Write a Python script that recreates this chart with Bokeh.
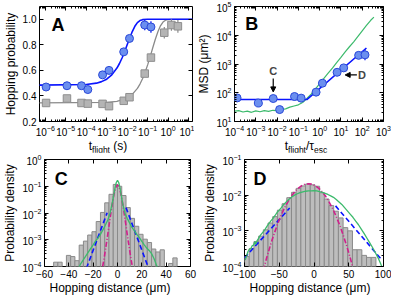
import numpy as np
from bokeh.plotting import figure
from bokeh.layouts import column, row
from bokeh.models import (FixedTicker, PrintfTickFormatter, LogAxis, LinearAxis,
                          Label, Arrow, NormalHead, CustomJSTickFormatter, Div)
from bokeh.embed import file_html
from bokeh.resources import INLINE

FONT = "Liberation Sans"

# ---------------- Panel A data ----------------
a_t = [1.1e-6, 1.15e-5, 5.9e-5, 1.2e-4, 6.3e-4, 1.3e-3, 6.8e-3, 1.3e-2, 7.2e-2, 0.145]
a_blue = [0.47, 0.48, 0.48, 0.45, 0.565, 0.60, 0.745, 0.85, 0.955, 0.94]
a_blue_err = [0.015, 0.012, 0.012, 0.012, 0.015, 0.015, 0.02, 0.025, 0.04, 0.045]
a_gray_t = [1.1e-6, 1.15e-5, 5.9e-5, 1.2e-4, 6.3e-4, 1.3e-3, 6.8e-3, 1.3e-2, 7.2e-2, 0.145, 0.65, 1.45, 3.0]
a_gray = [0.345, 0.38, 0.345, 0.34, 0.338, 0.32, 0.362, 0.39, 0.575, 0.70, 0.895, 0.955, 0.945]
a_gray_err = [0.01, 0.01, 0.01, 0.01, 0.01, 0.01, 0.012, 0.012, 0.015, 0.02, 0.045, 0.045, 0.05]
a_fit_blue_logt = [-6.3, -4.0, -3.5, -3.25, -3.0, -2.75, -2.5, -2.375, -2.25, -2.125, -2.0,
                   -1.875, -1.75, -1.625, -1.5, -1.375, -1.25, -1.0, 1.2]
a_fit_blue = [0.485, 0.490, 0.500, 0.512, 0.531, 0.565, 0.618, 0.654, 0.697, 0.746, 0.800,
              0.853, 0.904, 0.945, 0.974, 0.990, 0.997, 1.0, 1.0]
a_fit_gray_logt = [-6.3, -3.0, -2.5, -2.0, -1.75, -1.5, -1.375, -1.25, -1.125, -1.0, -0.875,
                   -0.75, -0.625, -0.5, -0.375, -0.25, -0.125, 0.0, 0.25, 1.2]
a_fit_gray = [0.345, 0.349, 0.357, 0.383, 0.412, 0.459, 0.493, 0.534, 0.585, 0.643, 0.708,
              0.777, 0.844, 0.903, 0.949, 0.978, 0.993, 0.998, 1.0, 1.0]
a_yticks = [0.2, 0.4, 0.6, 0.8, 1.0]

# ---------------- Panel B data ----------------
b_t = [1.32e-4, 1.32e-3, 6.6e-3, 1.32e-2, 0.066, 0.135, 0.68, 1.35, 6.6, 13.5, 68, 135]
b_msd = [66, 44, 63, 26, 74, 65, 105, 215, 515, 733, 2000, 2080]
b_err_lo = [62, 41, 59, 24, 70, 61, 99, 203, 487, 690, 1650, 1350]
b_err_hi = [70, 47, 67, 28, 78, 69, 111, 227, 545, 780, 2450, 3300]
b_fit_t = [1e-4, 0.25, 158]
b_fit_msd = [58, 58, 3600]
b_green_logt = [-4.0, -3.8, -3.6, -3.4, -3.2, -3.0, -2.8, -2.6, -2.4, -2.2, -2.0, -1.8, -1.6,
                -1.4, -1.2, -1.0, -0.8, -0.6, -0.4, -0.2, 0.0, 0.2, 0.4, 0.6, 0.8, 1.0, 1.2,
                1.4, 1.6, 1.8, 2.0, 2.2, 2.4, 2.55]
b_green_logmsd = [1.36, 1.38, 1.33, 1.36, 1.32, 1.37, 1.34, 1.38, 1.35, 1.39, 1.38, 1.42, 1.44,
                  1.50, 1.54, 1.58, 1.66, 1.80, 1.95, 2.13, 2.32, 2.50, 2.68, 2.86, 3.05, 3.23,
                  3.42, 3.60, 3.77, 3.96, 4.15, 4.34, 4.52, 4.63]

# ---------------- Panel C data ----------------
c_edges = [-52.5 + 3.5 * k for k in range(30)]
c_hist = [1.45e-4, 1.45e-4, 0, 2.6e-4, 2.35e-4, 1.65e-4, 6.3e-4, 8.9e-4, 1.5e-3, 2.0e-3,
          4.8e-3, 1.05e-2, 2.4e-2, 5.0e-2, 0.117, 0.100, 0.045, 0.016, 6.3e-3, 3.2e-3,
          1.6e-3, 1.05e-3, 7.9e-4, 4.5e-4, 3.5e-4, 4.2e-4, 0, 1.3e-4, 2.1e-4]
c_green_x = [-32, -30, -28, -26, -24, -22, -20, -18, -16, -14, -12, -10, -8, -6, -4, -3, -2, -1,
             0, 1, 2, 3, 4, 6, 8, 10, 12, 14, 16, 18, 20, 22, 24, 26, 28, 30, 32, 33]
c_green_logp = [-4.05, -3.88, -3.74, -3.60, -3.46, -3.32, -3.19, -3.04, -2.94, -2.80, -2.63,
                -2.46, -2.26, -1.99, -1.56, -1.30, -1.05, -0.86, -0.78, -0.86, -1.05, -1.32,
                -1.58, -2.00, -2.20, -2.38, -2.55, -2.67, -2.81, -2.92, -3.06, -3.19, -3.31,
                -3.40, -3.52, -3.70, -3.94, -4.06]
c_pink_x = [-12.2, -11, -10, -9, -8, -7, -6, -5, -4, -3, -2, -1, 0, 1, 2, 3, 4, 5, 6, 7, 8, 9,
            10, 11, 12.2]
c_pink_logp = [-4.0, -3.70, -3.40, -3.10, -2.80, -2.48, -2.17, -1.86, -1.58, -1.33, -1.13,
               -1.00, -0.95, -1.00, -1.13, -1.33, -1.58, -1.86, -2.17, -2.48, -2.80, -3.10,
               -3.40, -3.70, -4.0]
c_blue_x = [[-25.5, -8.5], [7.0, 25.5]]
c_blue_logp = [[-4.06, -1.99], [-1.80, -4.06]]

# ---------------- Panel D data ----------------
d_edges = [-99.9 + 6.75 * k for k in range(30)]
d_hist = [1.9e-4, 3.2e-4, 5.0e-4, 7.1e-4, 1.07e-3, 1.66e-3, 2.5e-3, 3.8e-3, 5.75e-3, 8.5e-3,
          1.2e-2, 1.55e-2, 1.82e-2, 2.05e-2, 1.95e-2, 1.78e-2, 1.17e-2, 7.8e-3, 5.1e-3,
          3.55e-3, 2.3e-3, 1.23e-3, 1.0e-3, 2.95e-4, 2.95e-4, 2.05e-4, 1.8e-4, 1.8e-4, 0]
d_green_x = [-99, -97, -95, -93, -91, -89, -87, -85, -84, -82, -80, -77, -74, -71, -68, -65,
             -62, -59, -56, -53, -50, -47, -44, -41, -38, -35, -32, -28, -24, -20, -16, -12,
             -8, -4, 0, 4, 8, 12, 16, 20, 24, 28, 32, 36, 40, 44, 48, 52, 56, 60, 64, 68, 72,
             76, 80, 84, 88, 92, 95, 98]
d_green_logp = [-3.82, -3.70, -3.58, -3.52, -3.50, -3.42, -3.40, -3.30, -3.38, -3.28, -3.22,
                -3.12, -3.05, -2.98, -2.88, -2.80, -2.72, -2.65, -2.57, -2.48, -2.42, -2.35,
                -2.27, -2.21, -2.15, -2.10, -2.05, -2.00, -1.96, -1.93, -1.91, -1.89, -1.88,
                -1.88, -1.87, -1.88, -1.90, -1.92, -1.95, -1.98, -2.02, -2.06, -2.12, -2.19,
                -2.26, -2.35, -2.44, -2.53, -2.62, -2.73, -2.83, -2.95, -3.07, -3.20, -3.33,
                -3.46, -3.60, -3.75, -3.88, -4.02]
d_pink_x = [-73, -68, -63, -58, -53, -48, -43, -38, -33, -28, -23, -18, -13, -8, -3, 2, 7, 12,
            17, 22, 27, 32, 37, 42, 47, 52, 57]
d_pink_logp = [-4.11, -3.75, -3.42, -3.12, -2.84, -2.60, -2.38, -2.20, -2.04, -1.91, -1.81,
               -1.74, -1.69, -1.68, -1.69, -1.74, -1.81, -1.91, -2.04, -2.20, -2.38, -2.60,
               -2.84, -3.12, -3.42, -3.75, -4.11]
d_blue_x = [[-100, -35], [31, 96]]
d_blue_logp = [[-3.76, -2.36], [-2.30, -3.78]]

BLUE_FILL = "#6b8fef"
BLUE_EDGE = "#2a48d8"
BLUE_LINE = "#0a14ff"
GRAY_FILL = "#b4b4b4"
GRAY_EDGE = "#8e8e8e"
GRAY_LINE = "#8a8a8a"
GREEN = "#3cba6c"
PINK = "#d0208c"
HIST_FILL = "#bdbdbd"
HIST_EDGE = "#8a8a8a"


def decades(e0, e1):
    return [10.0 ** e for e in range(e0, e1 + 1)]


def minors(e0, e1):
    return [m * 10.0 ** e for e in range(e0, e1) for m in range(2, 10)]


def style_axis(ax, show=True):
    ax.axis_line_color = None
    ax.major_tick_in = 4
    ax.major_tick_out = 0
    ax.minor_tick_in = 2
    ax.minor_tick_out = 0
    ax.major_tick_line_color = "black"
    ax.minor_tick_line_color = "black"
    ax.major_label_text_font = FONT
    ax.major_label_text_font_size = "10px"
    ax.major_label_text_color = "black"
    ax.major_label_standoff = 3
    ax.axis_label_text_font = FONT
    ax.axis_label_text_font_size = "12px"
    ax.axis_label_text_font_style = "normal"
    ax.axis_label_text_color = "black"
    ax.axis_label_standoff = 2
    if not show:
        ax.major_label_text_font_size = "1px"
        ax.major_label_text_alpha = 0
        ax.major_label_standoff = 0


def make_fig(w, h, xr, yr, xlog, ylog, xt, xm, yt, ym, borders, xfmt=None, yfmt=None,
             ylabel=None):
    bl, br, bt, bb = borders
    p = figure(width=w, height=h, x_range=xr, y_range=yr,
               x_axis_type="log" if xlog else "linear",
               y_axis_type="log" if ylog else "linear",
               output_backend="svg", toolbar_location=None,
               min_border_left=bl, min_border_right=br, min_border_top=bt,
               min_border_bottom=bb)
    p.xgrid.visible = False
    p.ygrid.visible = False
    p.outline_line_color = "black"
    p.outline_line_width = 1
    p.outline_line_alpha = 1
    p.background_fill_color = "white"
    p.border_fill_color = "white"
    p.xaxis.ticker = FixedTicker(ticks=xt, minor_ticks=xm)
    p.yaxis.ticker = FixedTicker(ticks=yt, minor_ticks=ym)
    if xfmt is not None:
        p.xaxis.formatter = xfmt
    if yfmt is not None:
        p.yaxis.formatter = yfmt
    for ax in p.xaxis:
        style_axis(ax)
    for ax in p.yaxis:
        style_axis(ax)
        if ylabel:
            ax.axis_label = ylabel
    top = (LogAxis if xlog else LinearAxis)(ticker=FixedTicker(ticks=xt, minor_ticks=xm))
    style_axis(top, show=False)
    p.add_layout(top, "above")
    right = (LogAxis if ylog else LinearAxis)(ticker=FixedTicker(ticks=yt, minor_ticks=ym))
    style_axis(right, show=False)
    p.add_layout(right, "right")
    return p


def panel_letter(p, x, y, txt):
    p.add_layout(Label(x=x, y=y, text=txt, text_font=FONT, text_font_size="18px",
                       text_font_style="bold", text_align="left", text_baseline="top",
                       text_color="black"))


def xlabel_div(html, width, height, pad):
    return Div(text=('<div style="width:%dpx;height:%dpx;line-height:%dpx;text-align:center;'
                     'padding-left:%dpx;box-sizing:border-box;font-family:\'%s\';'
                     'font-size:12px;color:black;white-space:nowrap;">%s</div>')
               % (width, height, height, pad, FONT, html),
               width=width, height=height, margin=0)


SUB = '<span style="font-size:8.5px;position:relative;top:3px;">%s</span>'

minus_fmt = CustomJSTickFormatter(code="return (tick < 0 ? '\u2212' : '') + Math.abs(tick).toFixed(0);")

# ---------------- Figure A ----------------
pA = make_fig(194, 138, (10 ** -6.28, 10 ** 1.19), (0.2, 1.1), True, False,
              decades(-6, 1), minors(-7, 2), a_yticks, [], (34, 2, 6, 10),
              yfmt=PrintfTickFormatter(format="%.1f"), ylabel="Hopping probability")
pA.line([10 ** v for v in a_fit_gray_logt], a_fit_gray, line_color=GRAY_LINE, line_width=1.3)
pA.line([10 ** v for v in a_fit_blue_logt], a_fit_blue, line_color=BLUE_LINE, line_width=1.6)
pA.segment(a_gray_t, [v - e for v, e in zip(a_gray, a_gray_err)], a_gray_t,
           [v + e for v, e in zip(a_gray, a_gray_err)], line_color=GRAY_LINE, line_width=1.2)
pA.segment(a_t, [v - e for v, e in zip(a_blue, a_blue_err)], a_t,
           [v + e for v, e in zip(a_blue, a_blue_err)], line_color=BLUE_LINE, line_width=1.2)
pA.scatter(a_gray_t, a_gray, marker="square", size=7.5, fill_color=GRAY_FILL,
           line_color=GRAY_EDGE, line_width=1)
pA.scatter(a_t, a_blue, marker="circle", size=8, fill_color=BLUE_FILL,
           line_color=BLUE_EDGE, line_width=1)
panel_letter(pA, 10 ** -5.7, 1.03, "A")
divA = xlabel_div("t" + SUB % "flight" + " (s)", 194, 14, 22)

# ---------------- Figure B ----------------
pB = make_fig(197, 138, (1e-4, 1e3), (1e1, 1e5), True, True,
              decades(-4, 3), minors(-4, 3), decades(1, 5), minors(1, 5), (35, 8, 6, 10),
              ylabel="MSD (\u03bcm\u00b2)")
pB.line([10 ** v for v in b_green_logt], [10 ** v for v in b_green_logmsd], line_color=GREEN,
        line_width=1.2)
pB.line(b_fit_t, b_fit_msd, line_color=BLUE_LINE, line_width=1.6)
pB.segment(b_t, b_err_lo, b_t, b_err_hi, line_color=BLUE_LINE, line_width=1.2)
pB.scatter(b_t, b_msd, marker="circle", size=8, fill_color=BLUE_FILL, line_color=BLUE_EDGE,
           line_width=1)
panel_letter(pB, 10 ** -3.5, 10 ** 4.73, "B")
pB.add_layout(Arrow(end=NormalHead(size=5, fill_color="black", line_color="black"),
                    x_start=b_t[2], y_start=10 ** 2.5, x_end=b_t[2], y_end=10 ** 2.03,
                    line_color="black", line_width=1.2))
pB.add_layout(Label(x=b_t[2], y=10 ** 2.55, text="C", text_font=FONT, text_font_size="11px",
                    text_font_style="bold", text_align="center", text_baseline="bottom"))
pB.add_layout(Arrow(end=NormalHead(size=5, fill_color="black", line_color="black"),
                    x_start=10 ** 1.75, y_start=10 ** 2.62, x_end=10 ** 1.2, y_end=10 ** 2.62,
                    line_color="black", line_width=1.2))
pB.add_layout(Label(x=10 ** 1.8, y=10 ** 2.62, text="D", text_font=FONT, text_font_size="11px",
                    text_font_style="bold", text_align="left", text_baseline="middle"))
divB = xlabel_div("t" + SUB % "flight" + "/\u03c4" + SUB % "esc", 197, 14, 27)

# ---------------- Figure C ----------------
pC = make_fig(200, 128, (-60, 60), (1e-4, 1.0), False, True,
              [-60, -40, -20, 0, 20, 40, 60], [], decades(-4, 0), minors(-4, 0),
              (38, 10, 7, 10), xfmt=minus_fmt, ylabel="Probability density")
c_keep = [i for i, v in enumerate(c_hist) if v > 0]
pC.quad(left=[c_edges[i] for i in c_keep], right=[c_edges[i + 1] for i in c_keep],
        top=[c_hist[i] for i in c_keep], bottom=1e-6, fill_color=HIST_FILL,
        line_color=HIST_EDGE, line_width=1)
pC.multi_line(c_blue_x, [[10 ** v for v in s] for s in c_blue_logp], line_color=BLUE_LINE,
              line_width=1.6, line_dash="5 3")
pC.line(c_pink_x, [10 ** v for v in c_pink_logp], line_color=PINK, line_width=1.6,
        line_dash="5 2 1 2")
pC.line(c_green_x, [10 ** v for v in c_green_logp], line_color=GREEN, line_width=1.3)
panel_letter(pC, -51.5, 10 ** -0.34, "C")
divC = xlabel_div("Hopping distance (\u03bcm)", 200, 12, 20)

# ---------------- Figure D ----------------
pD = make_fig(191, 128, (-100, 100), (1e-4, 1e-1), False, True,
              [-100, -50, 0, 50, 100], [], decades(-4, -1), minors(-4, -1),
              (37, 8, 5, 10), xfmt=minus_fmt, ylabel="Probability density")
d_keep = [i for i, v in enumerate(d_hist) if v > 0]
pD.quad(left=[d_edges[i] for i in d_keep], right=[d_edges[i + 1] for i in d_keep],
        top=[d_hist[i] for i in d_keep], bottom=1e-6, fill_color=HIST_FILL,
        line_color=HIST_EDGE, line_width=1)
pD.multi_line(d_blue_x, [[10 ** v for v in s] for s in d_blue_logp], line_color=BLUE_LINE,
              line_width=1.6, line_dash="5 3")
pD.line(d_pink_x, [10 ** v for v in d_pink_logp], line_color=PINK, line_width=1.6,
        line_dash="5 2 1 2")
pD.line(d_green_x, [10 ** v for v in d_green_logp], line_color=GREEN, line_width=1.3)
panel_letter(pD, -87, 10 ** -1.27, "D")
divD = xlabel_div("Hopping distance (\u03bcm)", 191, 12, 29)

layout = column(row(pA, pB), row(divA, divB), row(pC, pD), row(divC, divD))
open("out.html", "w").write(file_html(layout, INLINE))
